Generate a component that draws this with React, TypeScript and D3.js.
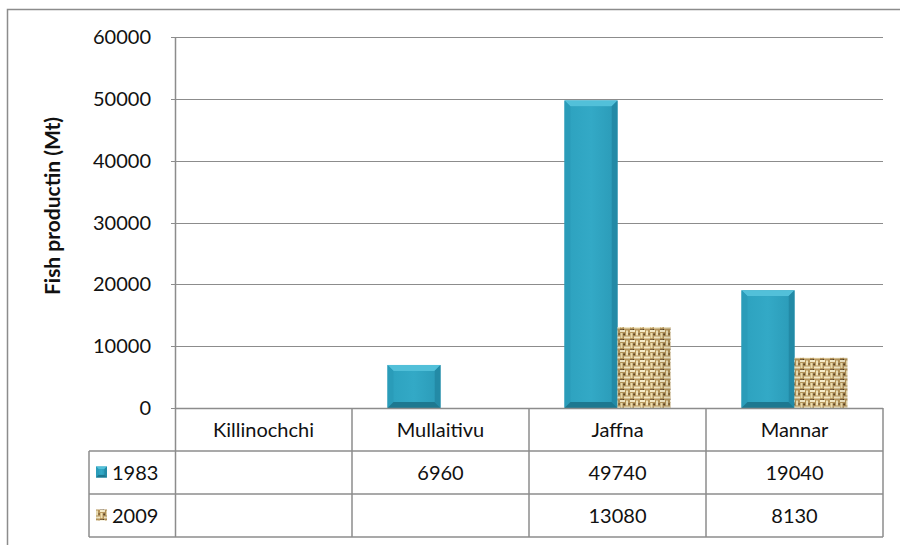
import React from "react";
import * as d3 from "d3";

const categories = ["Killinochchi", "Mullaitivu", "Jaffna", "Mannar"];
const seriesNames = ["1983", "2009"];
const values1983: (number | null)[] = [null, 6960, 49740, 19040];
const values2009: (number | null)[] = [null, null, 13080, 8130];
const yTicks = [0, 10000, 20000, 30000, 40000, 50000, 60000];
const yTitle = "Fish productin (Mt)";

const W = 900;
const H = 545;
const plotLeft = 175;
const plotRight = 883;
const plotTop = 37;
const plotBottom = 408;
const rowH = 43;
const legendLeft = 89;
const FONT = "Lato, 'Open Sans', sans-serif";
const GRID = "#8c8c8c";
const FS = 20;

function TealBar({ x, y, w, h }: { x: number; y: number; w: number; h: number }) {
  const b = Math.min(6, w / 4, h / 4);
  return (
    <g>
      <rect x={x} y={y} width={w} height={h} fill="#2a9ab8" />
      <polygon points={`${x},${y} ${x + w},${y} ${x + w - b},${y + b} ${x + b},${y + b}`} fill="#52c0d9" />
      <polygon points={`${x},${y} ${x + b},${y + b} ${x + b},${y + h - b} ${x},${y + h}`} fill="#2a9cb9" />
      <polygon points={`${x + w},${y} ${x + w},${y + h} ${x + w - b},${y + h - b} ${x + w - b},${y + b}`} fill="#238aa6" />
      <polygon points={`${x},${y + h} ${x + b},${y + h - b} ${x + w - b},${y + h - b} ${x + w},${y + h}`} fill="#1d7890" />
      <rect x={x + b} y={y + b} width={Math.max(0, w - 2 * b)} height={Math.max(0, h - 2 * b)} fill="url(#tealGrad)" />
    </g>
  );
}

function BurlapBar({ x, y, w, h }: { x: number; y: number; w: number; h: number }) {
  return (
    <g>
      <rect x={x} y={y} width={w} height={h} fill="url(#burlap)" />
      <rect x={x} y={y} width={w} height={h} fill="url(#burlapShade)" />
    </g>
  );
}

export default function App() {
  const x = d3.scaleBand<string>().domain(categories).range([plotLeft, plotRight]).padding(0);
  const xs = d3
    .scaleBand<string>()
    .domain(seriesNames)
    .range([0, x.bandwidth()])
    .paddingInner(0)
    .paddingOuter(0.67);
  const y = d3.scaleLinear().domain([0, 60000]).range([plotBottom, plotTop]);

  const seriesData = [values1983, values2009];

  const tableTop = plotBottom;
  const row1 = tableTop + rowH;
  const row2 = row1 + rowH;
  const row3 = row2 + rowH;

  return (
    <svg width={W} height={H} style={{ position: "absolute", left: 0, top: 0, fontFamily: FONT }}>
      <defs>
        <linearGradient id="tealGrad" x1="0" y1="0" x2="1" y2="0">
          <stop offset="0" stopColor="#2ea3c0" />
          <stop offset="0.5" stopColor="#33a9c6" />
          <stop offset="1" stopColor="#2c9dba" />
        </linearGradient>
        <pattern id="burlap" width="10" height="10" patternUnits="userSpaceOnUse">
          <rect width="10" height="10" fill="#b9975a" />
          <rect x="0" y="0" width="5" height="2" fill="#f6ecc8" />
          <rect x="6" y="0.5" width="2" height="5" fill="#f2e4b8" />
          <rect x="0.5" y="3" width="2" height="5" fill="#efdfae" />
          <rect x="4" y="6.5" width="6" height="2" fill="#f6ecc8" />
          <rect x="3.2" y="3.5" width="1.8" height="1.8" fill="#5a4224" />
          <rect x="8.5" y="3" width="1.2" height="2" fill="#6e5430" />
          <rect x="0" y="9" width="3" height="1" fill="#7a6038" />
          <rect x="3" y="9" width="1" height="1" fill="#4e3a1e" />
        </pattern>
        <linearGradient id="burlapShade" x1="0" y1="0" x2="1" y2="0">
          <stop offset="0" stopColor="#000" stopOpacity="0.06" />
          <stop offset="0.5" stopColor="#fff" stopOpacity="0.04" />
          <stop offset="1" stopColor="#000" stopOpacity="0.1" />
        </linearGradient>
      </defs>
      <rect x={0} y={0} width={W} height={H} fill="#fff" />
      {/* outer border */}
      <path d={`M7.5,${H} L7.5,9.5 L${W},9.5`} fill="none" stroke={GRID} strokeWidth={1.5} />

      {/* gridlines */}
      {yTicks.map((t) => (
        <g key={t}>
          <line x1={plotLeft - 4} x2={plotRight} y1={Math.round(y(t)) + 0.5} y2={Math.round(y(t)) + 0.5} stroke={GRID} strokeWidth={1.2} />
          <text x={plotLeft - 24} y={y(t)} dy="0.35em" textAnchor="end" fontSize={FS} fill="#111">
            {t}
          </text>
        </g>
      ))}
      <line x1={plotLeft + 0.5} x2={plotLeft + 0.5} y1={plotTop} y2={row3} stroke={GRID} strokeWidth={1.5} />

      {/* axis title */}
      <text
        transform={`translate(60,206) rotate(-90)`}
        textAnchor="middle"
        fontSize={21}
        fontWeight="bold"
        fill="#111"
      >
        {yTitle}
      </text>

      {/* bars */}
      {categories.map((c, i) =>
        seriesData.map((s, si) => {
          const v = s[i];
          if (v == null) return null;
          const bx = (x(c) as number) + (xs(seriesNames[si]) as number);
          const bw = xs.bandwidth();
          const by = y(v);
          const bh = y(0) - y(v);
          return si === 0 ? (
            <TealBar key={c + si} x={bx} y={by} w={bw} h={bh} />
          ) : (
            <BurlapBar key={c + si} x={bx} y={by} w={bw} h={bh} />
          );
        })
      )}

      {/* data table */}
      <g stroke={GRID} strokeWidth={1.5} fill="none">
        <line x1={plotLeft} x2={plotRight} y1={tableTop + 0.5} y2={tableTop + 0.5} />
        <line x1={legendLeft} x2={plotRight} y1={row1} y2={row1} />
        <line x1={legendLeft} x2={plotRight} y1={row2} y2={row2} />
        <line x1={legendLeft} x2={plotRight} y1={row3} y2={row3} />
        <line x1={legendLeft} x2={legendLeft} y1={row1} y2={row3} />
        {categories.map((c) => (
          <line key={c} x1={(x(c) as number) + x.bandwidth()} x2={(x(c) as number) + x.bandwidth()} y1={tableTop} y2={row3} />
        ))}
      </g>
      {categories.map((c) => (
        <text key={c} x={(x(c) as number) + x.bandwidth() / 2} y={(tableTop + row1) / 2} dy="0.35em" textAnchor="middle" fontSize={FS} fill="#111">
          {c}
        </text>
      ))}
      {seriesData.map((s, si) => {
        const ry = si === 0 ? row1 : row2;
        return (
          <g key={si}>
            {si === 0 ? (
              <TealBar x={96} y={ry + rowH / 2 - 6} w={11} h={11} />
            ) : (
              <BurlapBar x={96} y={ry + rowH / 2 - 6} w={11} h={11} />
            )}
            <text x={112} y={ry + rowH / 2} dy="0.35em" fontSize={FS} fill="#111">
              {seriesNames[si]}
            </text>
            {categories.map((c, i) =>
              s[i] == null ? null : (
                <text key={c} x={(x(c) as number) + x.bandwidth() / 2} y={ry + rowH / 2} dy="0.35em" textAnchor="middle" fontSize={FS} fill="#111">
                  {s[i]}
                </text>
              )
            )}
          </g>
        );
      })}
    </svg>
  );
}
